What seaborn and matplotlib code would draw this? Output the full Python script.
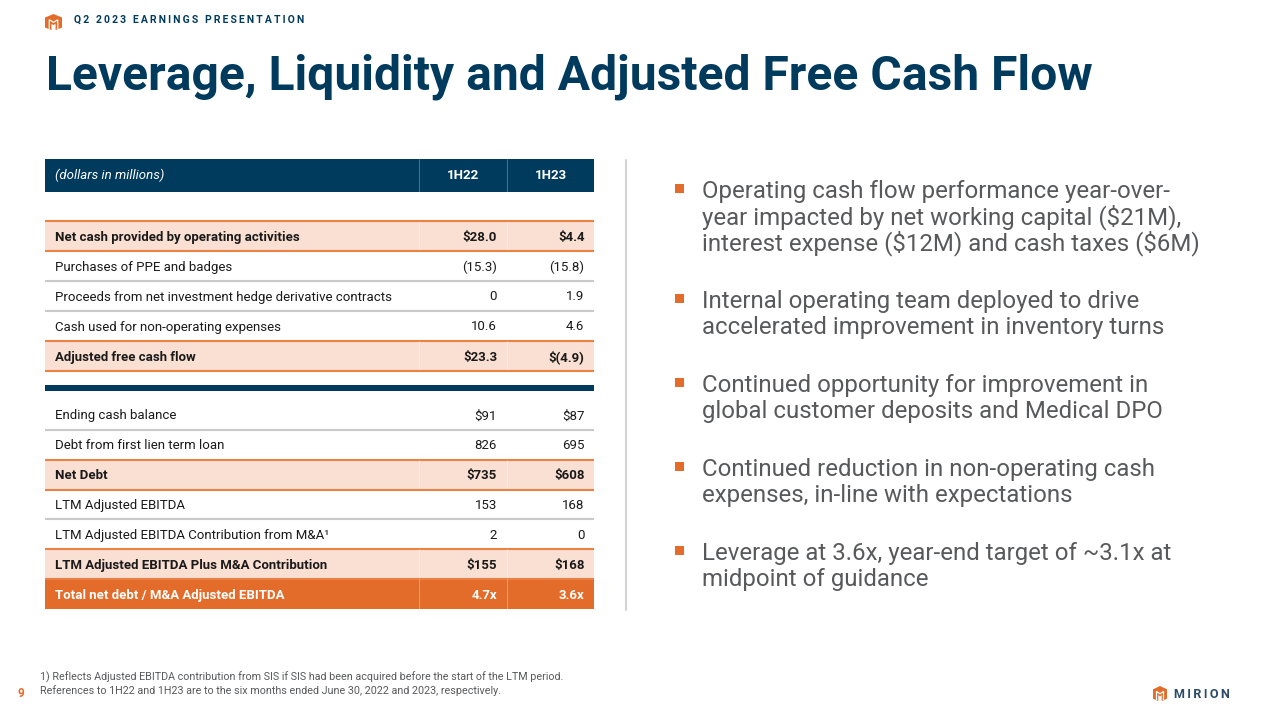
# Mirion Q2 2023 slide - leverage / liquidity table rebuilt with seaborn heatmaps

import matplotlib
matplotlib.use("Agg")
import matplotlib.pyplot as plt
from matplotlib.colors import ListedColormap
from matplotlib.patches import Polygon, Rectangle
import numpy as np
import seaborn as sns

sns.set_theme(style="white")
plt.rcParams["font.family"] = ["Roboto", "DejaVu Sans"]
plt.rcParams["text.parse_math"] = False

# ── Data ──
periods = ["1H22", "1H23"]

top_labels = [
    "Net cash provided by operating activities",
    "Purchases of PPE and badges",
    "Proceeds from net investment hedge derivative contracts",
    "Cash used for non-operating expenses",
    "Adjusted free cash flow",
]
top_1h22 = ["$28.0", "(15.3)", "0", "10.6", "$23.3"]
top_1h23 = ["$4.4", "(15.8)", "1.9", "4.6", "$(4.9)"]
top_kinds = [1, 0, 0, 0, 1]

bottom_labels = [
    "Ending cash balance",
    "Debt from first lien term loan",
    "Net Debt",
    "LTM Adjusted EBITDA",
    "LTM Adjusted EBITDA Contribution from M&A\u00b9",
    "LTM Adjusted EBITDA Plus M&A Contribution",
    "Total net debt / M&A Adjusted EBITDA",
]
bottom_1h22 = ["$91", "826", "$735", "153", "2", "$155", "4.7x"]
bottom_1h23 = ["$87", "695", "$608", "168", "0", "$168", "3.6x"]
bottom_kinds = [0, 0, 1, 0, 0, 1, 2]

bullets = [
    ["Operating cash flow performance year-over-",
     "year impacted by net working capital ($21M),",
     "interest expense ($12M) and cash taxes ($6M)"],
    ["Internal operating team deployed to drive",
     "accelerated improvement in inventory turns"],
    ["Continued opportunity for improvement in",
     "global customer deposits and Medical DPO"],
    ["Continued reduction in non-operating cash",
     "expenses, in-line with expectations"],
    ["Leverage at 3.6x, year-end target of ~3.1x at",
     "midpoint of guidance"],
]
bullet_baselines = [198, 308, 392, 476, 560]

footnotes = [
    "1) Reflects Adjusted EBITDA contribution from SIS if SIS had been acquired before the start of the LTM period.",
    "References to 1H22 and 1H23 are to the six months ended June 30, 2022 and 2023, respectively.",
]

# ── Colours ──
NAVY = "#003a5d"
ORANGE = "#e36c2a"
PEACH = "#fae0d3"
RULE_ORANGE = "#ea8147"
RULE_GRAY = "#c9c9c9"
GRAY_TEXT = "#58595b"
ROW_CMAP = ListedColormap(["#ffffff", PEACH, ORANGE, NAVY])

W, H = 1280, 712
fig = plt.figure(figsize=(W / 100, H / 100), dpi=100, facecolor="white")

TABLE_L, TABLE_R = 45, 594
COL_1, COL_2 = 419, 507
RIGHT_1, RIGHT_2 = 497, 584.5
TABLE_FS = 9.5


def row_block(kinds, top, bottom):
    """One heatmap per table block, placed by pixel extent."""
    ax = fig.add_axes([TABLE_L / W, 1 - bottom / H,
                       (TABLE_R - TABLE_L) / W, (bottom - top) / H])
    sns.heatmap(np.array(kinds).reshape(-1, 1), ax=ax, cmap=ROW_CMAP, vmin=0, vmax=3,
                cbar=False, xticklabels=False, yticklabels=False)
    return ax


row_block([3], 159, 192)
row_block(top_kinds, 221, 371)
row_block(bottom_kinds, 400, 609)

# overlay in pixel coordinates for text and rules
ov = fig.add_axes([0, 0, 1, 1], zorder=5)
ov.set_xlim(0, W)
ov.set_ylim(H, 0)
ov.axis("off")
ov.patch.set_alpha(0)


def logo(x, y, w, h):
    outer = [(0, .22), (.5, 0), (1, .22), (1, .85), (.62, 1), (.62, .6), (.5, .7),
             (.38, .6), (.38, 1), (0, .85)]
    ov.add_patch(Polygon([(x + a * w, y + b * h) for a, b in outer],
                         closed=True, fc=ORANGE, ec="none"))
    # white M stroke inside the house
    stroke = [(.25, .92), (.25, .36), (.5, .52), (.75, .36), (.75, .92)]
    ov.plot([x + a * w for a, b in stroke], [y + b * h for a, b in stroke],
            color="white", lw=0.9, solid_joinstyle="miter")


def draw_rows(labels, col1, col2, kinds, top, row_h):
    for i, (label, v1, v2, kind) in enumerate(zip(labels, col1, col2, kinds)):
        y0 = top + i * row_h
        y = y0 + row_h / 2 + 1
        color = "white" if kind == 2 else "#1a1a1a"
        weight = "bold" if kind else "normal"
        ov.text(55, y, label, color=color, fontsize=TABLE_FS, fontweight=weight, va="center")
        ov.text(RIGHT_1, y, v1, color=color, fontsize=TABLE_FS, fontweight=weight, va="center", ha="right")
        ov.text(RIGHT_2, y, v2, color=color, fontsize=TABLE_FS, fontweight=weight, va="center", ha="right")
        if kind:
            for x in (COL_1, COL_2):
                ov.plot([x, x], [y0, y0 + row_h], color="white", lw=0.5, alpha=0.5)
        # rule under the row, orange wins next to a highlighted row
        nxt = kinds[i + 1] if i + 1 < len(kinds) else None
        if kind == 1 or nxt == 1:
            ov.plot([TABLE_L, TABLE_R], [y0 + row_h] * 2, color=RULE_ORANGE, lw=1.5, solid_capstyle="butt")
        elif kind == 0:
            ov.plot([TABLE_L, TABLE_R], [y0 + row_h] * 2, color=RULE_GRAY, lw=1.5, solid_capstyle="butt")
    if kinds[0] == 1:
        ov.plot([TABLE_L, TABLE_R], [top, top], color=RULE_ORANGE, lw=1.5, solid_capstyle="butt")


# ── Top strip and title ──
logo(45, 14, 17, 16)
ov.text(74, 20, "\u2009".join("Q2 2023 EARNINGS PRESENTATION"),
        color=NAVY, fontsize=7.5, fontweight="bold", va="center")
ov.text(45.5, 90, "Leverage, Liquidity and Adjusted Free Cash Flow", color=NAVY,
        fontsize=34.6, fontweight="bold", va="baseline")

# ── Table ──
ov.text(55, 175.5, "(dollars in millions)", color="white", fontsize=TABLE_FS, style="italic", va="center")
ov.text((COL_1 + COL_2) / 2, 175.5, periods[0], color="white", fontsize=TABLE_FS, fontweight="bold", va="center", ha="center")
ov.text((COL_2 + TABLE_R) / 2, 175.5, periods[1], color="white", fontsize=TABLE_FS, fontweight="bold", va="center", ha="center")
for x in (COL_1, COL_2):
    ov.plot([x, x], [159, 192], color="white", lw=0.5, alpha=0.4)

draw_rows(top_labels, top_1h22, top_1h23, top_kinds, 221, 30)
ov.add_patch(Rectangle((TABLE_L, 385), TABLE_R - TABLE_L, 6, fc=NAVY, ec="none"))
draw_rows(bottom_labels, bottom_1h22, bottom_1h23, bottom_kinds, 400, 209 / 7)

# ── Divider and bullets ──
ov.plot([626, 626], [160, 610], color="#d4d4d4", lw=1.5)
for lines, base in zip(bullets, bullet_baselines):
    ov.add_patch(Rectangle((674.5, base - 14), 9, 9, fc=ORANGE, ec="none"))
    for j, line in enumerate(lines):
        ov.text(702.5, base + j * 26, line, color=GRAY_TEXT, fontsize=17.28, va="baseline")

# ── Footer ──
ov.text(18, 693.5, "9", color=ORANGE, fontsize=8.5, fontweight="bold", va="center")
ov.text(40, 680, footnotes[0], color=GRAY_TEXT, fontsize=7.75, va="baseline")
ov.text(40, 694, footnotes[1], color=GRAY_TEXT, fontsize=7.75, va="baseline")
logo(1153, 686, 14, 15)
ov.text(1174, 694, "\u2009".join("MIRION"), color="#2b4a68", fontsize=9, fontweight="bold", va="center")

fig.savefig("out.png", dpi=100, facecolor="white")
plt.close(fig)
